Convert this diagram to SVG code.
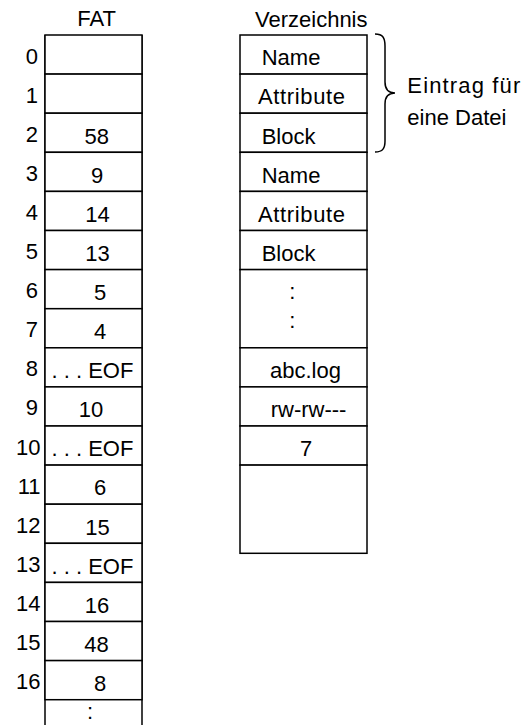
<svg xmlns="http://www.w3.org/2000/svg" width="531" height="725" viewBox="0 0 531 725">
<style>
text{font-family:"Liberation Sans",Arial,sans-serif;font-size:22px;fill:#000}
.c{fill:#fff;stroke:#000;stroke-width:1.5}
.l{stroke:#000;stroke-width:1.5;fill:none}
.m{text-anchor:middle}
.e{text-anchor:end}
</style>
<rect width="531" height="725" fill="#fff"/>
<g id="fat">
<text class="m" x="96.7" y="26">FAT</text>
<line class="l" x1="45" y1="35" x2="45" y2="725"/>
<line class="l" x1="142" y1="35" x2="142" y2="725"/>
<g id="fat0"><rect class="c" x="45" y="35" width="97" height="39.1"/><text class="e" x="38" y="63.5">0</text></g>
<g id="fat1"><rect class="c" x="45" y="74.1" width="97" height="39.1"/><text class="e" x="38" y="102.6">1</text></g>
<g id="fat2"><rect class="c" x="45" y="113.2" width="97" height="39.1"/><text class="e" x="38" y="141.7">2</text><text class="m" x="96.7" y="143.5">58</text></g>
<g id="fat3"><rect class="c" x="45" y="152.3" width="97" height="39.1"/><text class="e" x="38" y="180.8">3</text><text class="m" x="97" y="182.6">9</text></g>
<g id="fat4"><rect class="c" x="45" y="191.4" width="97" height="39.1"/><text class="e" x="38" y="219.9">4</text><text class="m" x="97.5" y="221.7">14</text></g>
<g id="fat5"><rect class="c" x="45" y="230.5" width="97" height="39.1"/><text class="e" x="38" y="259">5</text><text class="m" x="97.5" y="260.8">13</text></g>
<g id="fat6"><rect class="c" x="45" y="269.6" width="97" height="39.1"/><text class="e" x="38" y="298.1">6</text><text class="m" x="100" y="299.9">5</text></g>
<g id="fat7"><rect class="c" x="45" y="308.7" width="97" height="39.1"/><text class="e" x="38" y="337.2">7</text><text class="m" x="100" y="339">4</text></g>
<g id="fat8"><rect class="c" x="45" y="347.8" width="97" height="39.1"/><text class="e" x="38" y="376.3">8</text><text x="51.5" y="378.1">. . . EOF</text></g>
<g id="fat9"><rect class="c" x="45" y="386.9" width="97" height="39.1"/><text class="e" x="38" y="415.4">9</text><text class="m" x="91" y="417.2">10</text></g>
<g id="fat10"><rect class="c" x="45" y="426" width="97" height="39.1"/><text class="e" x="40.5" y="454.5">10</text><text x="51.5" y="456.3">. . . EOF</text></g>
<g id="fat11"><rect class="c" x="45" y="465.1" width="97" height="39.1"/><text class="e" x="40.5" y="493.6">11</text><text class="m" x="100" y="495.4">6</text></g>
<g id="fat12"><rect class="c" x="45" y="504.2" width="97" height="39.1"/><text class="e" x="40.5" y="532.7">12</text><text class="m" x="97.5" y="534.5">15</text></g>
<g id="fat13"><rect class="c" x="45" y="543.3" width="97" height="39.1"/><text class="e" x="40.5" y="571.8">13</text><text x="51.5" y="573.6">. . . EOF</text></g>
<g id="fat14"><rect class="c" x="45" y="582.4" width="97" height="39.1"/><text class="e" x="40.5" y="610.9">14</text><text class="m" x="97" y="612.7">16</text></g>
<g id="fat15"><rect class="c" x="45" y="621.5" width="97" height="39.1"/><text class="e" x="40.5" y="650">15</text><text class="m" x="96.5" y="651.8">48</text></g>
<g id="fat16"><rect class="c" x="45" y="660.6" width="97" height="39.1"/><text class="e" x="40.5" y="689.1">16</text><text class="m" x="100" y="690.9">8</text></g>
<g id="fat17"><text class="m" x="90" y="719">:</text></g>
</g>
<g id="dir">
<text x="255" y="26.7">Verzeichnis</text>
<g id="dir0"><rect class="c" x="240" y="35" width="127" height="39.1"/><text x="261.7" y="65.3">Name</text></g>
<g id="dir1"><rect class="c" x="240" y="74.1" width="127" height="39.1"/><text x="258" y="104.4" textLength="87">Attribute</text></g>
<g id="dir2"><rect class="c" x="240" y="113.2" width="127" height="39.1"/><text x="261.7" y="143.5">Block</text></g>
<g id="dir3"><rect class="c" x="240" y="152.3" width="127" height="39.1"/><text x="261.7" y="182.6">Name</text></g>
<g id="dir4"><rect class="c" x="240" y="191.4" width="127" height="39.1"/><text x="258" y="221.7" textLength="87">Attribute</text></g>
<g id="dir5"><rect class="c" x="240" y="230.5" width="127" height="39.1"/><text x="261.7" y="260.8">Block</text></g>
<g id="dir6"><rect class="c" x="240" y="269.6" width="127" height="78.2"/><text class="m" x="292.3" y="299">:</text><text class="m" x="292.3" y="328">:</text></g>
<g id="dir7"><rect class="c" x="240" y="347.8" width="127" height="39.1"/><text x="270" y="378.1">abc.log</text></g>
<g id="dir8"><rect class="c" x="240" y="386.9" width="127" height="39.1"/><text x="270.7" y="417.2">rw-rw---</text></g>
<g id="dir9"><rect class="c" x="240" y="426" width="127" height="39.1"/><text class="m" x="306" y="456.3">7</text></g>
<g id="dir10"><rect class="c" x="240" y="465.1" width="127" height="88.2"/></g>
</g>
<g id="brace">
<path class="l" d="M375,34 C383,34 385,38 385,46 L385,82 C385,89 388,93 395,93 C388,93 385,97 385,104 L385,141 C385,148 383,152 375,152"/>
<text x="407.3" y="93.3" textLength="113">Eintrag für</text>
<text x="407.3" y="125">eine Datei</text>
</g>
</svg>
